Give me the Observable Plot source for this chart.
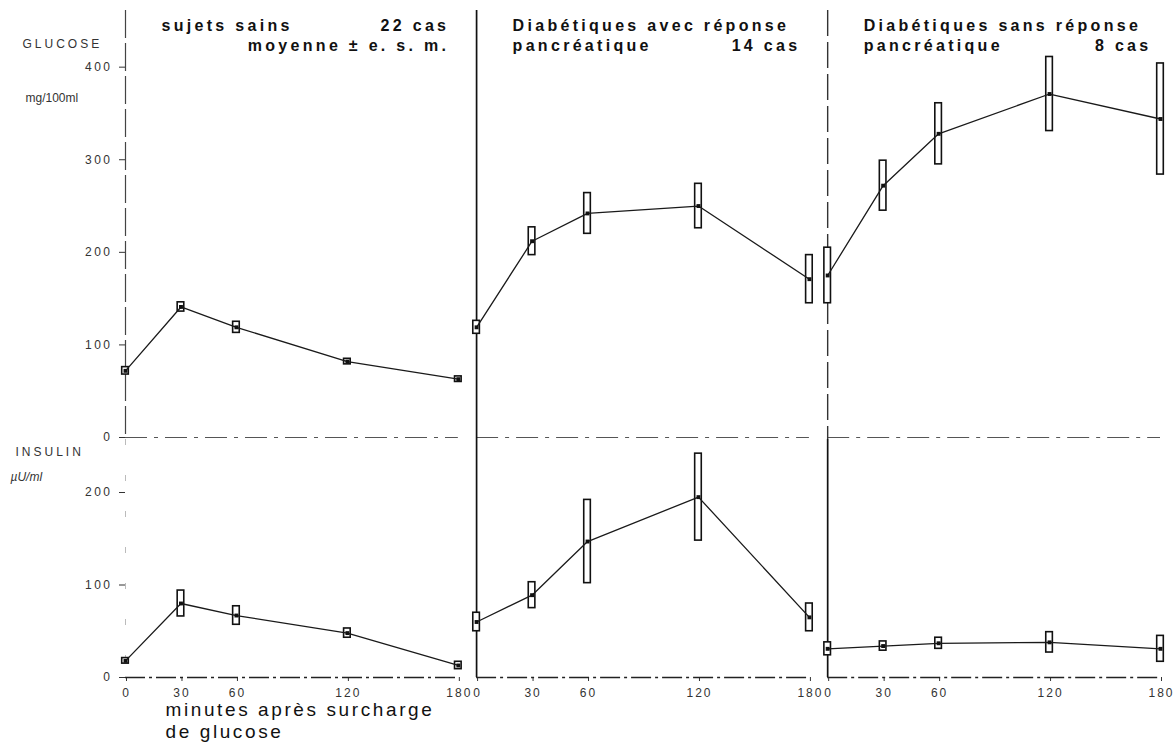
<!DOCTYPE html>
<html><head><meta charset="utf-8">
<script src="https://cdn.jsdelivr.net/npm/d3@7"></script>
<script src="https://cdn.jsdelivr.net/npm/@observablehq/plot@0.6"></script>
<style>
html,body{margin:0;padding:0;background:#fff;}
#chart svg{display:block;}
</style></head><body><div id="chart"></div>
<script>
// ---- data ----
const panels = ["sains", "avec", "sans"];
const minutes = [0, 30, 60, 120, 180];

const titleLine1Left = ["sujets sains", "Diabétiques avec réponse", "Diabétiques sans réponse"];
const titleLine1Right = ["22 cas", "", ""];
const titleLine2Left = ["", "pancréatique", "pancréatique"];
const titleLine2Right = ["moyenne ± e. s. m.", "14 cas", "8 cas"];

const glucoseLabel = ["GLUCOSE", "mg/100ml"];
const insulinLabel = ["INSULIN", "µU/ml"];
const xAxisLabel = "minutes après surcharge\nde glucose";

const glucoseTicks = [0, 100, 200, 300, 400];
const insulinTicks = [0, 100, 200];

// glucose (mg/100ml): mean and standard error
const glucoseSains = [72, 141, 119, 82, 63];
const glucoseSainsSE = [4, 5, 6, 3, 3];
const glucoseAvec = [119, 212, 242, 250, 171];
const glucoseAvecSE = [7, 15, 22, 24, 26];
const glucoseSans = [175, 272, 328, 371, 344];
const glucoseSansSE = [30, 27, 33, 40, 60];

// insulin (µU/ml): mean and standard error
const insulinSains = [18, 80, 67, 48, 13];
const insulinSainsSE = [3, 14, 10, 5, 4];
const insulinAvec = [60, 89, 147, 195, 65];
const insulinAvecSE = [10, 14, 45, 47, 15];
const insulinSans = [31, 34, 37, 38, 31];
const insulinSansSE = [7, 5, 6, 11, 14];

// ---- build tables ----
function rowsOf(means, ses) {
  return panels.flatMap((p, i) => minutes.map((t, j) => ({panel: p, t, mean: means[i][j], se: ses[i][j]})));
}
const gluRows = rowsOf([glucoseSains, glucoseAvec, glucoseSans], [glucoseSainsSE, glucoseAvecSE, glucoseSansSE]);
const insRows = rowsOf([insulinSains, insulinAvec, insulinSans], [insulinSainsSE, insulinAvecSE, insulinSansSE]);
const titles = panels.map((p, i) => ({panel: p, l1L: titleLine1Left[i], l1R: titleLine1Right[i], l2L: titleLine2Left[i], l2R: titleLine2Right[i]}));

const FONT = "'Liberation Sans', Arial, Helvetica, sans-serif";
const fxOpts = {domain: panels, paddingInner: 0.052, paddingOuter: 0, round: false, axis: null, label: null};

function dataMarks(rows) {
  return [
    Plot.rect(rows, {fx: "panel", x1: "t", x2: "t", y1: d => d.mean - d.se, y2: d => d.mean + d.se,
      insetLeft: -3.3, insetRight: -3.3, fill: "#fff", stroke: "#111", strokeWidth: 1.6}),
    Plot.line(rows, {fx: "panel", x: "t", y: "mean", stroke: "#1a1a1a", strokeWidth: 1.3}),
    Plot.dot(rows, {fx: "panel", x: "t", y: "mean", symbol: "square", r: 2.2, fill: "#111", stroke: null})
  ];
}

function titleMarks() {
  const base = {fx: "panel", fontSize: 16, fontWeight: "bold", fill: "#111", lineAnchor: "bottom", ariaDescription: "title"};
  return [
    Plot.text(titles, {...base, text: "l1L", frameAnchor: "top-left", textAnchor: "start", dx: 36, dy: 20}),
    Plot.text(titles, {...base, text: "l1R", frameAnchor: "top-right", textAnchor: "end", dx: -9, dy: 20}),
    Plot.text(titles, {...base, text: "l2L", frameAnchor: "top-left", textAnchor: "start", dx: 36, dy: 40}),
    Plot.text(titles, {...base, text: "l2R", frameAnchor: "top-right", textAnchor: "end", dx: -9, dy: 40})
  ];
}

const glu = Plot.plot({
  width: 1175, height: 439,
  marginTop: 10, marginBottom: 0, marginLeft: 125, marginRight: 15,
  style: {fontFamily: FONT, fontSize: "12px", color: "#222", background: "#fff", overflow: "visible"},
  fx: fxOpts,
  x: {domain: [0, 180], axis: null},
  y: {domain: [-2.16, 461.2]},
  marks: [
    Plot.axisY(glucoseTicks, {facetAnchor: "left", tickSize: 6, tickPadding: 7, label: null, stroke: "#333", fill: "#333"}),
    Plot.ruleY([0], {stroke: "#555", strokeWidth: 1.2, strokeDasharray: "22,7,4,7"}),
    Plot.ruleX([panels[0]], {fx: d => d, x: 0, stroke: "#444", strokeWidth: 1.2, strokeDasharray: "28,5"}),
    Plot.ruleX([panels[1]], {fx: d => d, x: 0, stroke: "#111", strokeWidth: 1.7}),
    Plot.ruleX([panels[2]], {fx: d => d, x: 0, stroke: "#333", strokeWidth: 1.4, strokeDasharray: "26,6"}),
    ...dataMarks(gluRows),
    ...titleMarks(),
    Plot.text([glucoseLabel[0]], {fx: () => panels[0], text: d => d, frameAnchor: "top-left", textAnchor: "start", lineAnchor: "bottom", dx: -103, dy: 37, fontSize: 12, fill: "#333", ariaDescription: "unit"}),
    Plot.text([glucoseLabel[1]], {fx: () => panels[0], text: d => d, frameAnchor: "top-left", textAnchor: "start", lineAnchor: "bottom", dx: -100, dy: 91, fontSize: 12, fill: "#333"})
  ]
});

const ins = Plot.plot({
  width: 1175, height: 305,
  marginTop: 0, marginBottom: 67, marginLeft: 125, marginRight: 15,
  style: {fontFamily: FONT, fontSize: "12px", color: "#222", background: "#fff", overflow: "visible"},
  fx: fxOpts,
  x: {domain: [0, 180]},
  y: {domain: [0, 257.3]},
  marks: [
    Plot.axisY(insulinTicks, {facetAnchor: "left", tickSize: 6, tickPadding: 7, label: null, stroke: "#333", fill: "#333"}),
    Plot.axisX(minutes, {tickSize: 4, tickPadding: 7, label: null, stroke: "#333", fill: "#333", dx: 1}),
    Plot.ruleY([0], {stroke: "#222", strokeWidth: 1.4, strokeDasharray: "20,4,3,4"}),
    Plot.ruleX([panels[0]], {fx: d => d, x: 0, stroke: "#bbb", strokeWidth: 1, strokeDasharray: "6,30"}),
    Plot.ruleX([panels[1]], {fx: d => d, x: 0, stroke: "#111", strokeWidth: 1.7}),
    Plot.ruleX([panels[2]], {fx: d => d, x: 0, stroke: "#111", strokeWidth: 1.7}),
    ...dataMarks(insRows),
    Plot.text([insulinLabel[0]], {fx: () => panels[0], text: d => d, frameAnchor: "top-left", textAnchor: "start", lineAnchor: "bottom", dx: -110, dy: 16, fontSize: 12, fill: "#333", ariaDescription: "unit"}),
    Plot.text([insulinLabel[1]], {fx: () => panels[0], text: d => d, frameAnchor: "top-left", textAnchor: "start", lineAnchor: "bottom", dx: -115, dy: 41, fontSize: 12, fontStyle: "italic", fill: "#333"}),
    Plot.text([xAxisLabel], {fx: () => panels[0], text: d => d, frameAnchor: "bottom-left", textAnchor: "start", lineAnchor: "bottom", lineHeight: 1.14, dx: 40, dy: 60, fontSize: 19, fill: "#111", ariaDescription: "xlabel"})
  ]
});

for (const svg of [glu, ins]) {
  const s = d3.select(svg);
  s.selectAll('g[aria-label="y-axis tick label"] text').style("letter-spacing", "2.5px");
  s.selectAll('g[aria-label="x-axis tick label"] text').style("letter-spacing", "2px");
  s.selectAll('g[aria-description="title"] text').style("letter-spacing", "3.3px");
  s.selectAll('g[aria-description="unit"] text').style("letter-spacing", "3px");
  s.selectAll('g[aria-description="xlabel"] text').style("letter-spacing", "2.6px");
}
document.getElementById("chart").append(glu, ins);
</script></body></html>
